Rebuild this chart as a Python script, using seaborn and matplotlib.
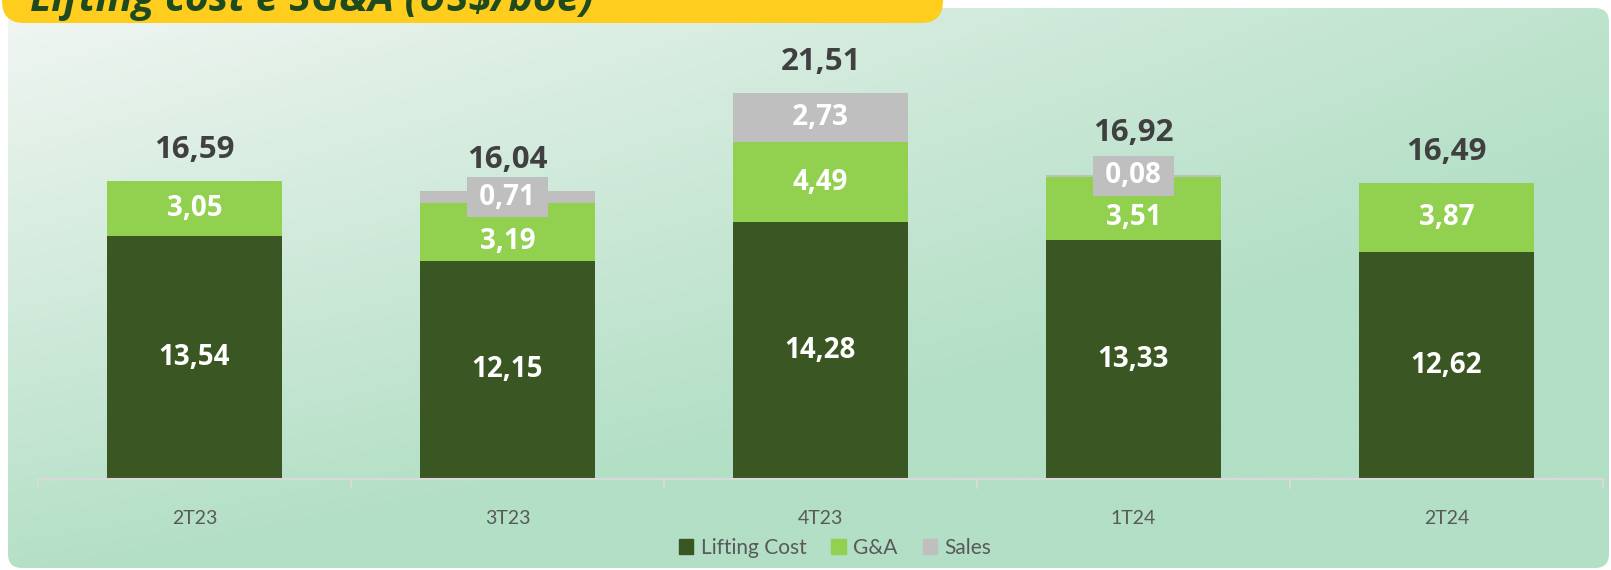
import numpy as np
import pandas as pd
import seaborn as sns
import matplotlib.pyplot as plt
from matplotlib.patches import FancyBboxPatch, Patch

# Data
quarters = ["2T23", "3T23", "4T23", "1T24", "2T24"]
lifting = [13.54, 12.15, 14.28, 13.33, 12.62]
gna = [3.05, 3.19, 4.49, 3.51, 3.87]
sales = [0.00, 0.71, 2.73, 0.08, 0.00]
totals = [16.59, 16.04, 21.51, 16.92, 16.49]

c_lift = "#3a5622"
c_gna = "#92d050"
c_sales = "#bfbfbf"

df = pd.DataFrame({"quarter": quarters, "lifting": lifting, "gna": gna, "sales": sales})
df["lift_gna"] = df["lifting"] + df["gna"]
df["all"] = df["lift_gna"] + df["sales"]

sns.set_theme(style="white")
plt.rcParams["font.family"] = ["Lato", "DejaVu Sans"]

W, H = 1611, 570
fig = plt.figure(figsize=(W / 100, H / 100), dpi=100)
fig.patch.set_facecolor("white")

# background panel with soft gradient
bg = fig.add_axes([0, 0, 1, 1], zorder=0)
bg.set_xlim(0, W)
bg.set_ylim(H, 0)
bg.axis("off")
gx, gy = np.meshgrid(np.linspace(0, 1, 200), np.linspace(0, 1, 80))
t = np.clip(0.35 + 0.45 * gx + 0.6 * gy - 0.35 * (1 - gx) * (1 - gy), 0, 1)
top_c = np.array([242, 246, 243]) / 255
bot_c = np.array([178, 223, 197]) / 255
grad = top_c[None, None, :] * (1 - t[..., None]) + bot_c[None, None, :] * t[..., None]
im = bg.imshow(grad, extent=(0, W, H, 0), aspect="auto", interpolation="bilinear")
panel = FancyBboxPatch((8, 8), W - 10, H - 10, boxstyle="round,pad=0,rounding_size=14",
                       transform=bg.transData, facecolor="none", edgecolor="none")
bg.add_patch(panel)
im.set_clip_path(panel)

# yellow title tab, cut off at the top as in the source slide
tab = FancyBboxPatch((2, -40), 941, 63, boxstyle="round,pad=0,rounding_size=22",
                     facecolor="#ffcd1e", edgecolor="none")
bg.add_patch(tab)
bg.text(30, 11, "Lifting cost e SG&A (US$/boe)", fontsize=29.5, fontweight="bold",
        fontstyle="italic", family=["Open Sans", "DejaVu Sans"], color="#1e4a1e",
        va="baseline", ha="left")

# main chart
ax = fig.add_axes([38 / W, 91 / H, 1565 / W, (479 - 28.5) / H], zorder=1)
ax.patch.set_alpha(0)
bw = 0.556
sns.barplot(data=df, x="quarter", y="all", order=quarters, color=c_sales, saturation=1,
            width=bw, linewidth=0, ax=ax)
sns.barplot(data=df, x="quarter", y="lift_gna", order=quarters, color=c_gna, saturation=1,
            width=bw, linewidth=0, ax=ax)
sns.barplot(data=df, x="quarter", y="lifting", order=quarters, color=c_lift, saturation=1,
            width=bw, linewidth=0, ax=ax)

ax.set_xlim(-0.5, len(quarters) - 0.5)
ax.set_ylim(0, 25.08)
ax.set_xlabel("")
ax.set_ylabel("")
ax.set_yticks([])
for s in ["top", "right", "left"]:
    ax.spines[s].set_visible(False)
ax.spines["bottom"].set_color("#d9d9d9")
ax.spines["bottom"].set_linewidth(1.5)
ax.set_xticks(range(len(quarters)))
ax.set_xticklabels(quarters, fontsize=14, color="#595959")
ax.tick_params(axis="x", which="major", bottom=False, length=0, pad=22)
ax.set_xticks(np.arange(-0.5, len(quarters)), minor=True)
ax.tick_params(axis="x", which="minor", bottom=True, length=7, width=1.5, color="#d9d9d9",
               direction="out")

lab_font = ["Open Sans", "DejaVu Sans"]
extra = {"1T24": 30}
for i, q in enumerate(quarters):
    ax.text(i, lifting[i] / 2, f"{lifting[i]:.2f}".replace(".", ","), ha="center", va="center",
            color="white", fontsize=20, fontweight="bold", family=lab_font)
    # G&A label sits a little lower when a small Sales box is above it
    shift = -7 if 0 < sales[i] < 1 else 0
    ax.annotate(f"{gna[i]:.2f}".replace(".", ","), (i, lifting[i] + gna[i] / 2),
                xytext=(0, shift), textcoords="offset points", ha="center", va="center",
                color="white", fontsize=20, fontweight="bold", family=lab_font)
    if sales[i] > 0:
        ax.text(i, lifting[i] + gna[i] + sales[i] / 2, " " + f"{sales[i]:.2f}".replace(".", ",") + " ",
                ha="center", va="center", color="white", fontsize=20, fontweight="bold",
                family=lab_font,
                bbox=dict(boxstyle="square,pad=0.2", facecolor=c_sales, edgecolor="none"))
    top = lifting[i] + gna[i] + sales[i]
    ax.annotate(f"{totals[i]:.2f}".replace(".", ","), (i, top), xytext=(0, extra.get(q, 22)),
                textcoords="offset points", ha="center", va="center", color="#404040",
                fontsize=22.5, fontweight="bold", family=lab_font)

handles = [Patch(color=c_lift, label="Lifting Cost"), Patch(color=c_gna, label="G&A"),
           Patch(color=c_sales, label="Sales")]
fig.legend(handles=handles, loc="center", bbox_to_anchor=(835 / W, 1 - 548 / H), ncol=3,
           frameon=False, fontsize=15, handlelength=0.7, handleheight=0.7,
           handletextpad=0.35, columnspacing=1.2, labelcolor="#595959")

fig.savefig("out.png", dpi=100)
